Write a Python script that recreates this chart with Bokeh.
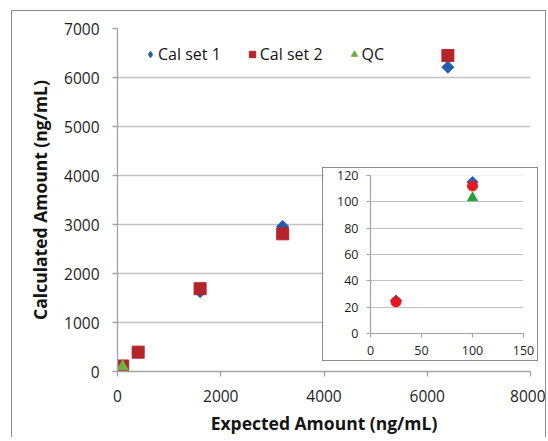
import math
from bokeh.plotting import figure
from bokeh.models import FixedTicker, Legend, LegendItem
from bokeh.layouts import column
from bokeh.embed import file_html
from bokeh.resources import INLINE

# ---- data ----
expected = [25, 100, 400, 1600, 3200, 6400]
cal_set_1 = [25, 115, 400, 1630, 2960, 6210]
cal_set_2 = [24, 112, 395, 1690, 2810, 6450]
qc_expected = [100]
qc_calc = [103]

inset_expected = [25, 100]
inset_cal_1 = [25, 115]
inset_cal_2 = [24, 112]
inset_qc_expected = [100]
inset_qc = [103]

main_x_ticks = [0, 2000, 4000, 6000, 8000]
main_y_ticks = [0, 1000, 2000, 3000, 4000, 5000, 6000, 7000]
inset_x_ticks = [0, 50, 100, 150]
inset_y_ticks = [0, 20, 40, 60, 80, 100, 120]

series_names = ["Cal set 1", "Cal set 2", "QC"]

FONT = "Open Sans"
GRID = "#c2c2c2"
AXIS = "#a3a3a3"
BORDER = "#8c8c8c"
TEXT = "#1e1e1e"
BLUE = "#1f5fae"
RED = "#b5232b"
GREEN = "#72b043"
IN_BLUE = "#2a62b8"
IN_RED = "#e6191f"
IN_GREEN = "#22a33a"

# ---- main chart ----
p = figure(width=533, height=430, x_range=(0, 8000), y_range=(0, 7000),
           output_backend="svg", toolbar_location=None,
           min_border_left=105, min_border_right=15, min_border_top=17, min_border_bottom=70)
p.frame_align = False
p.outline_line_color = None
p.background_fill_color = "white"
p.border_fill_color = "white"
p.xgrid.visible = False
p.ygrid.ticker = FixedTicker(ticks=main_y_ticks)
p.ygrid.grid_line_color = GRID
p.ygrid.grid_line_width = 1.3

p.xaxis.ticker = FixedTicker(ticks=main_x_ticks)
p.yaxis.ticker = FixedTicker(ticks=main_y_ticks)
for ax in (p.xaxis[0], p.yaxis[0]):
    ax.axis_line_color = AXIS
    ax.axis_line_width = 1.3
    ax.major_tick_line_color = AXIS
    ax.major_tick_line_width = 1.3
    ax.major_tick_out = 5
    ax.major_tick_in = 0
    ax.minor_tick_line_color = None
    ax.major_label_text_font = FONT
    ax.major_label_text_font_size = "15.5px"
    ax.major_label_text_color = TEXT
    ax.axis_label_text_font = FONT
    ax.axis_label_text_font_size = "17.5px"
    ax.axis_label_text_font_style = "bold"
    ax.axis_label_text_color = "#141414"
p.xaxis.major_label_standoff = 13
p.xaxis.axis_label_standoff = 6
p.yaxis.major_label_standoff = 13
p.yaxis.axis_label_standoff = 9
p.xaxis.axis_label = "Expected Amount (ng/mL)"
p.yaxis.axis_label = "Calculated Amount (ng/mL)"

# diamond drawn underneath (used for the legend), rotated square on top
r1_leg = p.scatter(expected, cal_set_1, marker="diamond", size=10,
                   fill_color=BLUE, line_color=BLUE)
r1 = p.scatter(expected, cal_set_1, marker="square", angle=math.pi / 4, size=8.5,
               fill_color=BLUE, line_color=BLUE)
r2 = p.scatter(expected, cal_set_2, marker="square", size=12,
               fill_color=RED, line_color=RED)
r3 = p.scatter(qc_expected, qc_calc, marker="triangle", size=11,
               fill_color=GREEN, line_color=GREEN)

legend = Legend(items=[LegendItem(label=series_names[0], renderers=[r1_leg]),
                       LegendItem(label=series_names[1], renderers=[r2]),
                       LegendItem(label=series_names[2], renderers=[r3])],
                orientation="horizontal", location=(25, 305))
legend.border_line_color = None
legend.background_fill_alpha = 0
legend.padding = 0
legend.margin = 0
legend.spacing = 23
legend.glyph_width = 16
legend.glyph_height = 24
legend.label_height = 24
legend.label_standoff = 0
legend.label_text_font = FONT
legend.label_text_font_size = "16px"
legend.label_text_color = "#141414"
p.add_layout(legend)

# ---- inset chart ----
q = figure(width=216, height=194, x_range=(0, 150), y_range=(0, 120),
           output_backend="svg", toolbar_location=None,
           min_border_left=47, min_border_right=16, min_border_top=7, min_border_bottom=29)
q.frame_align = False
q.outline_line_color = None
q.background_fill_color = "white"
q.border_fill_color = "white"
q.xgrid.visible = False
q.ygrid.ticker = FixedTicker(ticks=inset_y_ticks)
q.ygrid.grid_line_color = GRID
q.ygrid.grid_line_width = 1.2
q.xaxis.ticker = FixedTicker(ticks=inset_x_ticks)
q.yaxis.ticker = FixedTicker(ticks=inset_y_ticks)
for ax in (q.xaxis[0], q.yaxis[0]):
    ax.axis_line_color = AXIS
    ax.axis_line_width = 1.2
    ax.major_tick_line_color = AXIS
    ax.major_tick_line_width = 1.2
    ax.major_tick_out = 4
    ax.major_tick_in = 0
    ax.minor_tick_line_color = None
    ax.major_label_text_font = FONT
    ax.major_label_text_font_size = "12.5px"
    ax.major_label_text_color = TEXT
q.xaxis.major_label_standoff = 8
q.yaxis.major_label_standoff = 8

q.scatter(inset_expected, inset_cal_1, marker="square", angle=math.pi / 4, size=8,
          fill_color=IN_BLUE, line_color=IN_BLUE)
q.scatter(inset_expected, inset_cal_2, marker="circle", size=10,
          fill_color=IN_RED, line_color=IN_RED)
q.scatter(inset_qc_expected, inset_qc, marker="triangle", size=10,
          fill_color=IN_GREEN, line_color=IN_GREEN)

q.styles = {"border": "1px solid " + BORDER}
q.margin = (-274, 0, 76, 310)

layout = column(p, q, margin=(10, 0, 0, 11),
                styles={"border-left": "1px solid " + BORDER,
                        "border-top": "1px solid " + BORDER,
                        "border-right": "1px solid " + BORDER})

open("out.html", "w").write(file_html(layout, INLINE))
